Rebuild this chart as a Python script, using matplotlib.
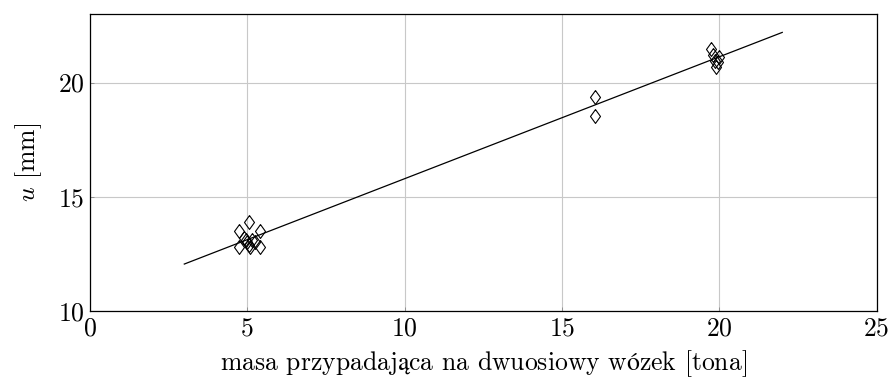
import numpy as np
import matplotlib.pyplot as plt

plt.rcParams['font.family'] = ['cmr10', 'DejaVu Serif']
plt.rcParams['mathtext.fontset'] = 'cm'
plt.rcParams['axes.formatter.use_mathtext'] = True
plt.rcParams['font.size'] = 18.5

# measured deflection vs. mass per two-axle bogie
masa = [4.75, 5.05, 5.4, 4.75, 5.4, 4.9, 5.0, 5.15, 5.1, 5.25, 4.95, 5.05,
        16.05, 16.05,
        19.75, 19.9, 19.85, 20.0, 19.8, 19.95]
u = [13.5, 13.9, 13.5, 12.8, 12.8, 13.2, 13.0, 13.1, 12.8, 13.0, 13.1, 12.9,
     19.35, 18.55,
     21.45, 20.7, 20.95, 21.1, 21.2, 20.9]

# fitted line
fit_x = [3, 22]
fit_a = 0.534
fit_b = 10.45

xticks = [0, 5, 10, 15, 20, 25]
yticks = [10, 15, 20]

diamond = [(0, 1), (0.72, 0), (0, -1), (-0.72, 0), (0, 1)]

fig = plt.figure(figsize=(8.9, 3.81), dpi=100)
ax = fig.add_axes([0.101, 0.184, 0.884, 0.779])

fx = np.array(fit_x, dtype=float)
ax.plot(fx, fit_a * fx + fit_b, color='black', lw=0.9, zorder=3)
ax.plot(masa, u, linestyle='none', marker=diamond, ms=10, mfc='none',
        mec='black', mew=0.8, zorder=4)

ax.set_xlim(0, 25)
ax.set_ylim(10, 23)
ax.set_xticks(xticks)
ax.set_yticks(yticks)
ax.grid(True, color='#c8c8c8', lw=0.8)
ax.set_axisbelow(True)
ax.tick_params(direction='in', length=3, width=0.6, color='#888888', pad=4)
for s in ax.spines.values():
    s.set_linewidth(0.9)

# Polish letters missing from cmr10 go through mathtext (STIX fallback)
ax.set_xlabel(r'masa przypadaj$\mathrm{ą}$ca na dwuosiowy w$\mathrm{ó}$zek [tona]',
              labelpad=6)
ax.set_ylabel('$u$ [mm]', labelpad=10)

fig.savefig('out.png', dpi=100)
